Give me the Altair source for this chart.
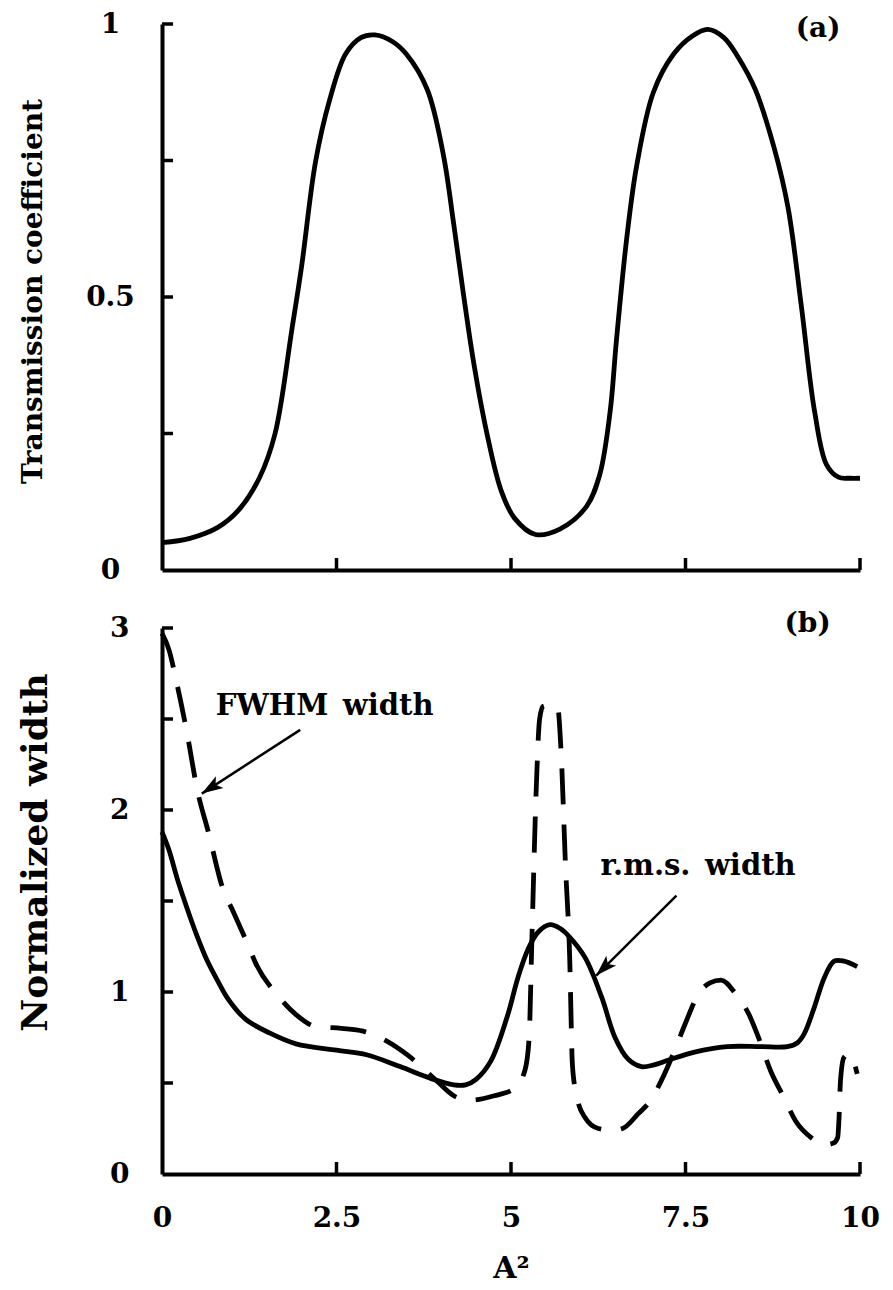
import math
import altair as alt
import pandas as pd

# ---------------- data ----------------
# Panel (a): transmission coefficient vs A^2
TA_X = [0, 0.4, 0.8, 1.1, 1.4, 1.62, 1.86, 2.0, 2.2, 2.4, 2.63, 2.85, 3.05, 3.3, 3.5,
        3.8, 4.03, 4.18, 4.32, 4.47, 4.66, 4.86, 5.05, 5.35, 5.7, 6.08, 6.27, 6.42,
        6.51, 6.66, 6.8, 7.04, 7.33, 7.6, 7.82, 8.05, 8.25, 8.5, 8.77, 8.97, 9.16,
        9.35, 9.52, 9.69, 9.85, 10.0]
TA_Y = [0.05, 0.058, 0.078, 0.11, 0.17, 0.25, 0.44, 0.556, 0.748, 0.86, 0.945, 0.975,
        0.98, 0.968, 0.945, 0.88, 0.761, 0.633, 0.504, 0.376, 0.247, 0.145, 0.095,
        0.065, 0.075, 0.116, 0.174, 0.29, 0.42, 0.61, 0.74, 0.875, 0.945, 0.978, 0.99,
        0.975, 0.94, 0.88, 0.773, 0.663, 0.483, 0.29, 0.193, 0.17, 0.168, 0.168]

# Panel (b): r.m.s. width (solid)
RMS_X = [0, 0.1, 0.22, 0.35, 0.5, 0.65, 0.8, 0.95, 1.2, 1.54, 1.92, 2.5, 2.93, 3.41,
         3.85, 4.18, 4.35, 4.5, 4.71, 4.95, 5.1, 5.25, 5.39, 5.56, 5.7, 5.82, 6.06,
         6.3, 6.49, 6.68, 6.87, 7.05, 7.25, 7.63, 8.1, 8.58, 8.96, 9.1, 9.2, 9.34,
         9.49, 9.63, 9.77, 9.96]
RMS_Y = [1.88, 1.78, 1.62, 1.47, 1.31, 1.17, 1.06, 0.96, 0.85, 0.775, 0.715, 0.68,
         0.655, 0.59, 0.525, 0.49, 0.49, 0.52, 0.62, 0.87, 1.08, 1.24, 1.33, 1.37,
         1.35, 1.31, 1.19, 0.97, 0.75, 0.63, 0.59, 0.6, 0.625, 0.67, 0.7, 0.7, 0.7,
         0.72, 0.77, 0.91, 1.08, 1.17, 1.17, 1.14]

# Panel (b): FWHM width (dashed)
FW_X = [0, 0.1, 0.21, 0.36, 0.5, 0.67, 0.87, 1.01, 1.23, 1.34, 1.66, 1.92, 2.21, 2.57,
        2.88, 3.22, 3.53, 3.94, 4.18, 4.4, 4.76, 5.05, 5.2, 5.26, 5.3, 5.36, 5.41,
        5.46, 5.6, 5.67, 5.72, 5.78, 5.84, 5.88, 5.94, 6.06, 6.25, 6.45, 6.6, 6.82,
        7.01, 7.15, 7.34, 7.49, 7.68, 7.85, 8.01, 8.2, 8.41, 8.53, 8.72, 8.91, 9.08,
        9.3, 9.49, 9.62, 9.68, 9.7, 9.72, 9.77, 9.85, 9.96]
FW_Y = [2.97, 2.88, 2.70, 2.42, 2.12, 1.87, 1.57, 1.45, 1.26, 1.16, 0.98, 0.876, 0.81,
        0.80, 0.785, 0.73, 0.65, 0.51, 0.43, 0.405, 0.43, 0.47, 0.57, 0.75, 1.3, 2.1,
        2.5, 2.57, 2.58, 2.56, 2.3, 1.7, 1.2, 0.6, 0.43, 0.31, 0.25, 0.24, 0.25, 0.33,
        0.41, 0.51, 0.675, 0.82, 0.985, 1.05, 1.065, 1.0, 0.876, 0.766, 0.566, 0.42,
        0.29, 0.20, 0.16, 0.17, 0.2, 0.31, 0.51, 0.64, 0.66, 0.55]

A_YTICKS = [0.25, 0.5, 0.75, 1.0]
A_YLABELS = [0, 0.5, 1]
B_YTICKS = [0.5, 1.0, 1.5, 2.0, 2.5, 3.0]
B_YLABELS = [0, 1, 2, 3]
XTICKS = [2.5, 5, 7.5, 10]
XLABELS = [0, 2.5, 5, 7.5, 10]

A_LABEL = {"x": [9.4], "y": [0.99], "t": ["(a)"]}
B_LABEL = {"x": [9.25], "y": [3.02], "t": ["(b)"]}
NOTE_X = [2.33, 7.68]
NOTE_Y = [2.52, 1.645]
NOTE_T = ["FWHM\u2002width", "r.m.s.\u2002width"]
ARROW_X1 = [1.98, 7.37]
ARROW_Y1 = [2.44, 1.53]
ARROW_X2 = [0.57, 6.22]
ARROW_Y2 = [2.09, 1.09]

# ---------------- style ----------------
FONT = "DejaVu Serif"
W, H = 698, 546
XMAX = 10.0
xscale = alt.Scale(domain=[0, XMAX], nice=False, zero=False)
yA = alt.Scale(domain=[0, 1], nice=False, zero=False)
yB = alt.Scale(domain=[0, 3], nice=False, zero=False)
LABEL_EXPR = "'' + datum.value"


def ylab_axis(values, title, title_size, title_x, title_y, pad, align):
    return alt.Axis(
        values=values, labelExpr=LABEL_EXPR, ticks=False, grid=False,
        domain=True, domainColor="black", domainWidth=4,
        labelFont=FONT, labelFontWeight="bold", labelFontSize=28, labelColor="black",
        labelPadding=pad, labelFlush=False, labelAlign=align,
        title=title, titleFont=FONT, titleFontWeight="bold", titleFontSize=title_size,
        titleColor="black", titleX=title_x, titleY=title_y,
    )


xaxisA = alt.Axis(labels=False, ticks=False, grid=False, domain=True,
                  domainColor="black", domainWidth=4, title=None)
yaxisA = ylab_axis(A_YLABELS, "Transmission  coefficient", 28, -115, 267, 52, "center")
xaxisB = alt.Axis(
    values=XLABELS, labelExpr=LABEL_EXPR, ticks=False, grid=False, domain=True,
    domainColor="black", domainWidth=4, labelFont=FONT, labelFontWeight="bold",
    labelFontSize=28, labelColor="black", labelPadding=30, labelFlush=False,
    title="A²", titleFont=FONT, titleFontWeight="bold", titleFontSize=30,
    titleColor="black", titleY=103, titleBaseline="alphabetic",
)
yaxisB = ylab_axis(B_YLABELS, "Normalized  width", 36, -108, 224, 33, "right")


def X(field, axis):
    return alt.X(field, scale=xscale, axis=axis)


def Y(field, scale, axis):
    return alt.Y(field, scale=scale, axis=axis)


def tick_layers(yticks, yscale, xaxis, yaxis):
    yt = alt.Chart(pd.DataFrame({"v": yticks})).mark_rule(
        color="black", strokeWidth=3.5
    ).encode(y=Y("v:Q", yscale, yaxis), x=alt.value(0), x2=alt.value(11))
    xt = alt.Chart(pd.DataFrame({"v": XTICKS})).mark_rule(
        color="black", strokeWidth=3.5
    ).encode(x=X("v:Q", xaxis), y=alt.value(H), y2=alt.value(H - 12))
    return [yt, xt]


# ---------------- panel (a) ----------------
dfA = pd.DataFrame({"x": TA_X, "y": TA_Y})
lineA = alt.Chart(dfA).mark_line(
    color="black", strokeWidth=4.8, interpolate="catmull-rom"
).encode(x=X("x:Q", xaxisA), y=Y("y:Q", yA, yaxisA))
labA = alt.Chart(pd.DataFrame(A_LABEL)).mark_text(
    font=FONT, fontWeight="bold", fontSize=28, color="black", align="center",
    baseline="middle"
).encode(x=X("x:Q", xaxisA), y=Y("y:Q", yA, yaxisA), text="t:N")
panelA = alt.layer(lineA, *tick_layers(A_YTICKS, yA, xaxisA, yaxisA), labA
                   ).properties(width=W, height=H)

# ---------------- panel (b) ----------------
dfR = pd.DataFrame({"x": RMS_X, "y": RMS_Y})
dfF = pd.DataFrame({"x": FW_X, "y": FW_Y})

lineR = alt.Chart(dfR).mark_line(
    color="black", strokeWidth=4.8, interpolate="catmull-rom"
).encode(x=X("x:Q", xaxisB), y=Y("y:Q", yB, yaxisB))
lineF = alt.Chart(dfF).mark_line(
    color="black", strokeWidth=4.8, interpolate="monotone", strokeDash=[36, 20],
).encode(x=X("x:Q", xaxisB), y=Y("y:Q", yB, yaxisB))
notes = alt.Chart(pd.DataFrame({"x": NOTE_X, "y": NOTE_Y, "t": NOTE_T})).mark_text(
    font=FONT, fontWeight="bold", fontSize=29, color="black", align="center",
    baseline="alphabetic"
).encode(x=X("x:Q", xaxisB), y=Y("y:Q", yB, yaxisB), text="t:N")
labB = alt.Chart(pd.DataFrame(B_LABEL)).mark_text(
    font=FONT, fontWeight="bold", fontSize=28, color="black", align="center",
    baseline="middle"
).encode(x=X("x:Q", xaxisB), y=Y("y:Q", yB, yaxisB), text="t:N")

sx = W / XMAX
sy = H / 3.0
angles = []
for x1, y1, x2, y2 in zip(ARROW_X1, ARROW_Y1, ARROW_X2, ARROW_Y2):
    dx = (x2 - x1) * sx
    dy = -(y2 - y1) * sy
    angles.append(math.degrees(math.atan2(dx, -dy)) % 360)
dfArr = pd.DataFrame({"x1": ARROW_X1, "y1": ARROW_Y1, "x2": ARROW_X2, "y2": ARROW_Y2,
                      "ang": angles})
shafts = alt.Chart(dfArr).mark_rule(color="black", strokeWidth=2.5).encode(
    x=X("x1:Q", xaxisB), y=Y("y1:Q", yB, yaxisB), x2="x2:Q", y2="y2:Q")
heads = alt.Chart(dfArr).mark_point(
    shape="M0,0 L0.36,1.1 L0,0.85 L-0.36,1.1 Z", filled=True, color="black",
    opacity=1, size=1500, strokeWidth=0
).encode(x=X("x2:Q", xaxisB), y=Y("y2:Q", yB, yaxisB),
         angle=alt.Angle("ang:Q", scale=None))

panelB = alt.layer(lineR, lineF, *tick_layers(B_YTICKS, yB, xaxisB, yaxisB), notes,
                   labB, shafts, heads).properties(width=W, height=H)

chart = alt.ConcatChart(
    concat=[panelA, panelB], columns=1, spacing=26, align="none",
    padding={"left": 8, "top": 2, "right": 0, "bottom": 0},
    background="white",
).configure_view(strokeWidth=0)

chart.save("out.html", embed_options={"renderer": "svg", "actions": False})
